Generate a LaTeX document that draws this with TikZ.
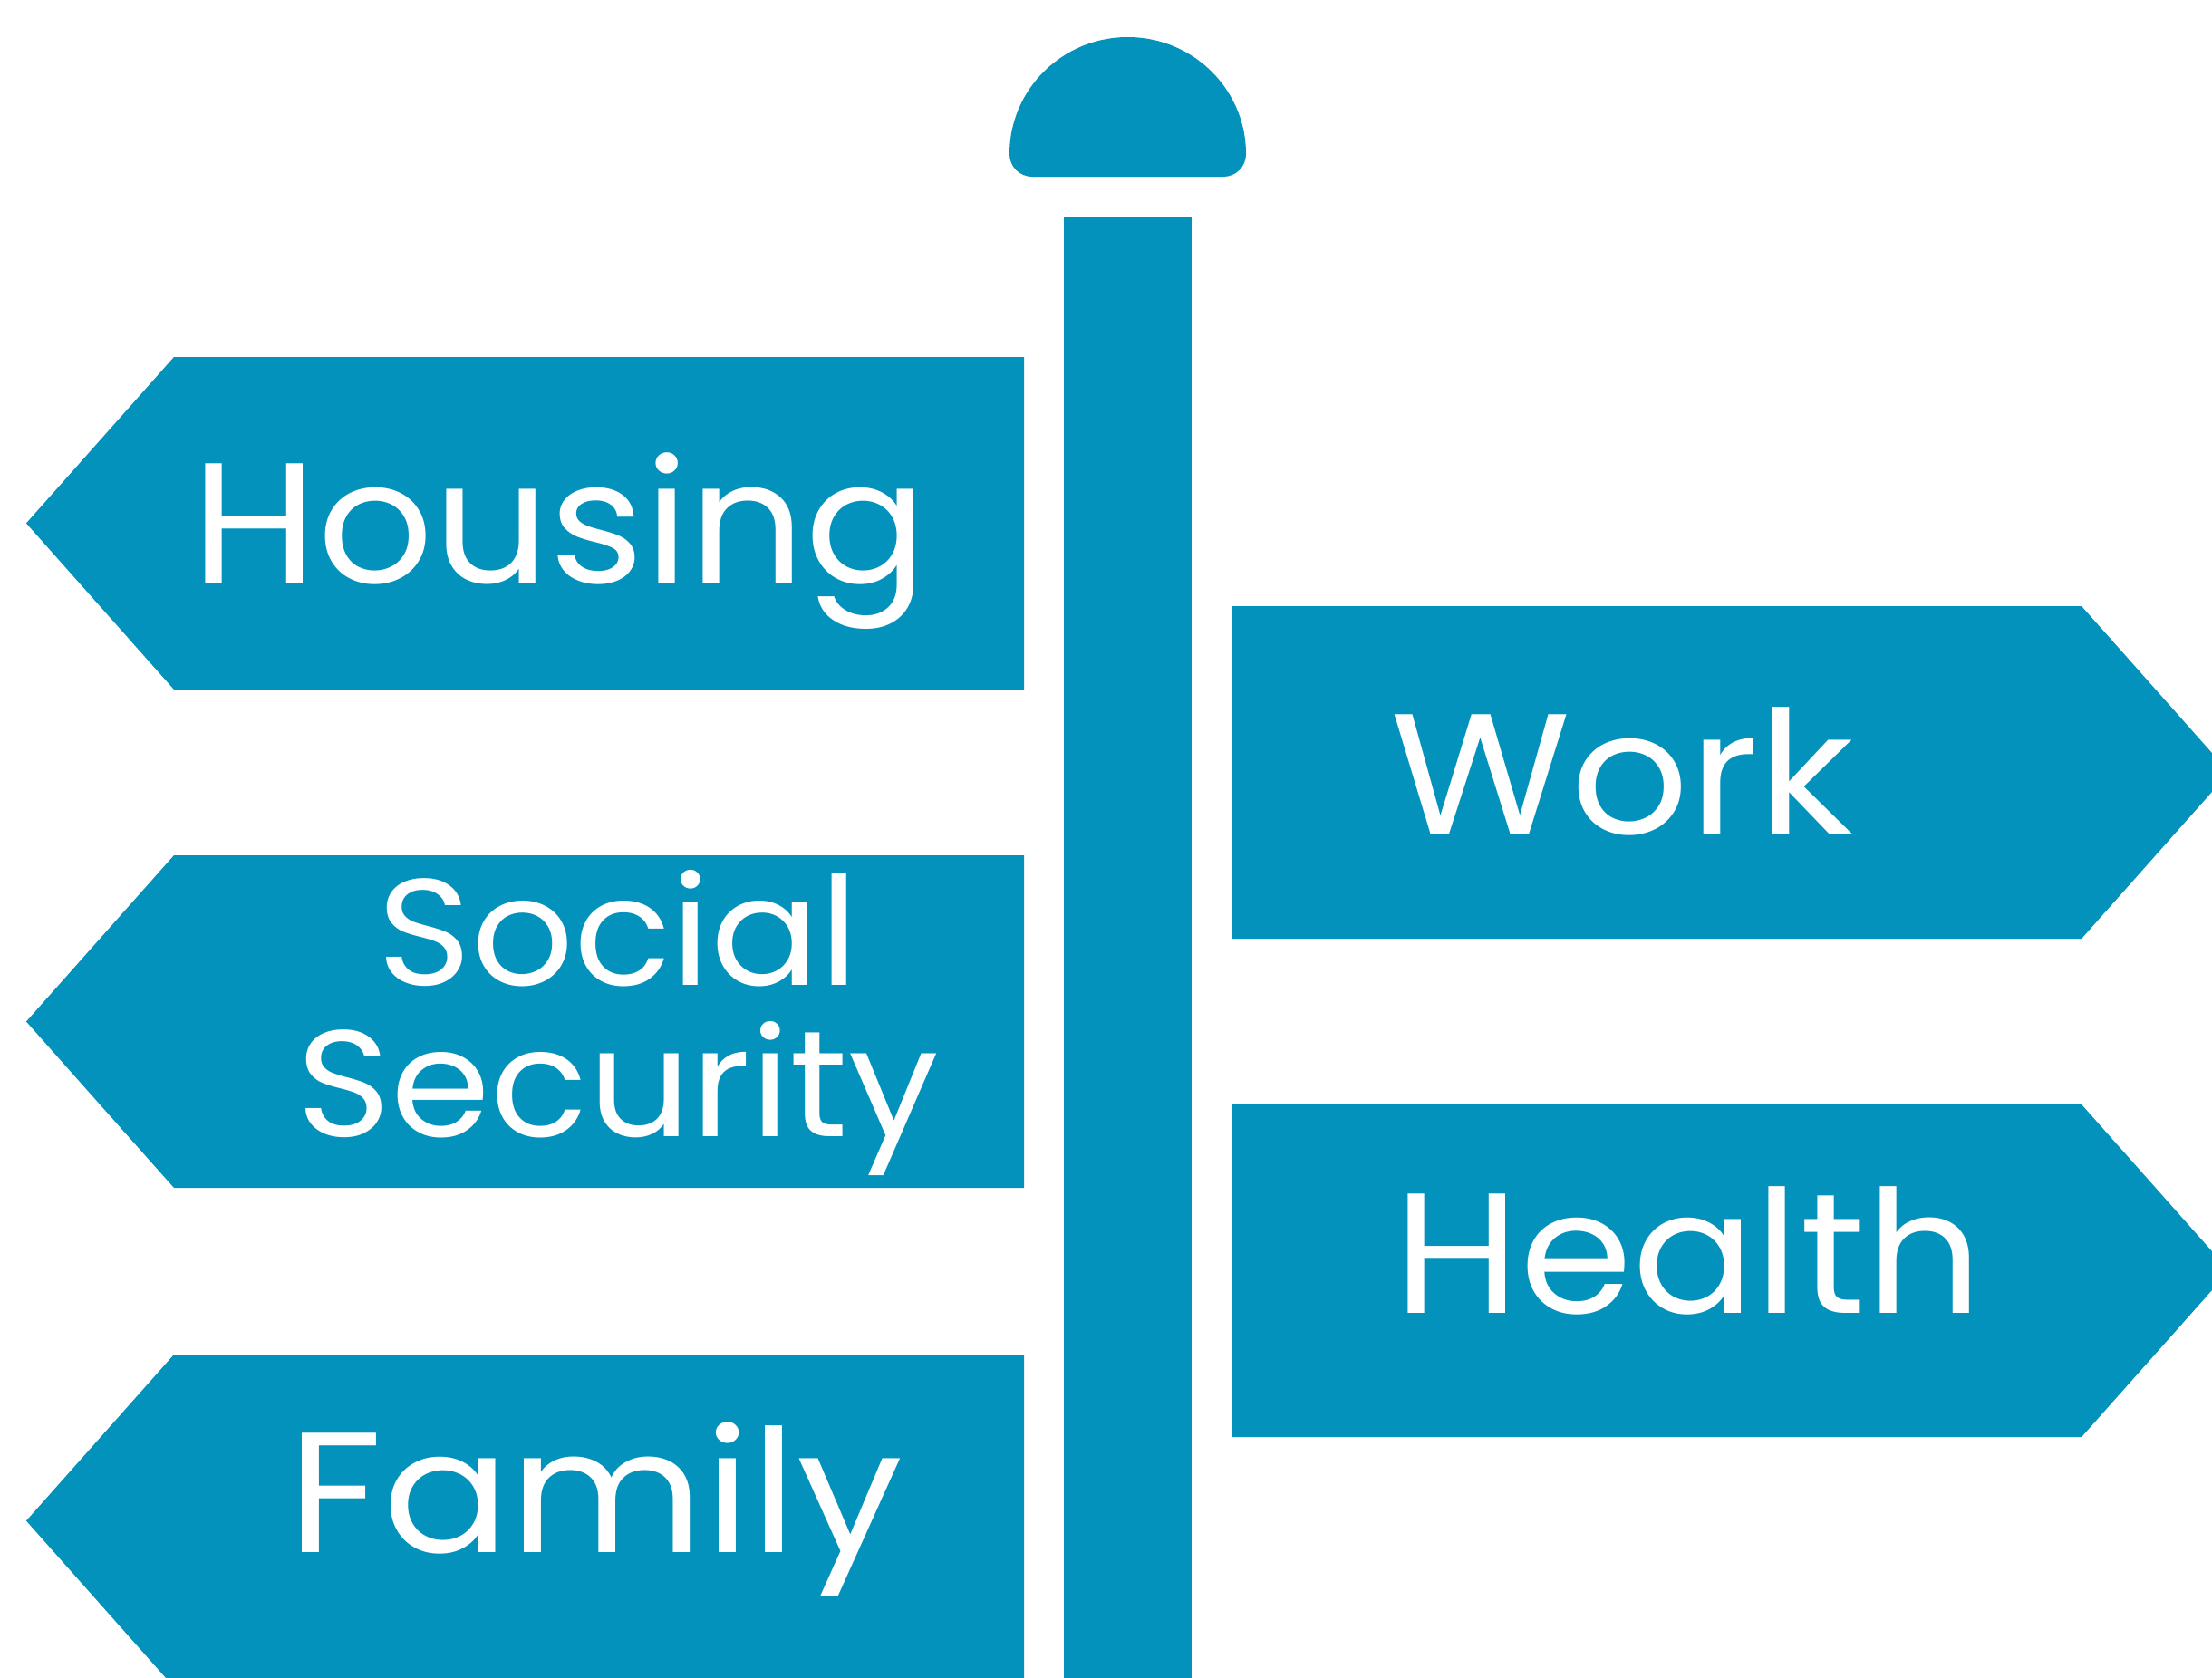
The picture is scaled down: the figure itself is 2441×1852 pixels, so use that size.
\documentclass[tikz,border=0pt]{standalone}
\usepackage{fontspec}
\usepackage{graphicx}
\setmainfont{Poppins}
\definecolor{signblue}{HTML}{0292BC}
\newcommand{\signword}[2][1.06]{\scalebox{#1}[1]{#2}}
\begin{document}
\begin{tikzpicture}[x=1pt,y=-1pt,
  signfill/.style={fill=signblue},
  bigtext/.style={text=white,inner sep=0pt,anchor=base,font=\fontsize{189}{189}\selectfont},
  midtext/.style={text=white,inner sep=0pt,anchor=base,font=\fontsize{167}{167}\selectfont}]
\useasboundingbox (0,0) rectangle (2441,1852);
\begin{scope}
\clip (0,0) rectangle (2441,1852);
% cap
\fill[signfill] (1114,170) arc[start angle=180,end angle=360,x radius=130.5,y radius=129]
  arc[start angle=0,end angle=90,radius=25] -- (1139,195)
  arc[start angle=90,end angle=180,radius=25] -- cycle;
% post
\fill[signfill] (1174,240) rectangle (1315,1852);
% left signs
\foreach \t in {394,944,1495}{
  \fill[signfill] (1130,\t) -- (192,\t) -- (29,\t+183.5) -- (192,\t+367) -- (1130,\t+367) -- cycle;
}
% right signs
\foreach \t in {669,1219}{
  \fill[signfill] (1360,\t) -- (2297,\t) -- (2460,\t+183.5) -- (2297,\t+367) -- (1360,\t+367) -- cycle;
}
\end{scope}
\node[bigtext] (housing) at (618,643) {\signword{Housing}};
\node[bigtext] (work) at (1790,920) {\signword[1.08]{Work}};
\node[midtext] (social) at (682,1087) {\signword{Social}};
\node[midtext] (security) at (682,1254) {\signword{Security}};
\node[bigtext] (health) at (1863,1449) {\signword{Health}};
\node[bigtext] (family) at (657,1713) {\signword[1.10]{Family}};
\end{tikzpicture}
\end{document}
